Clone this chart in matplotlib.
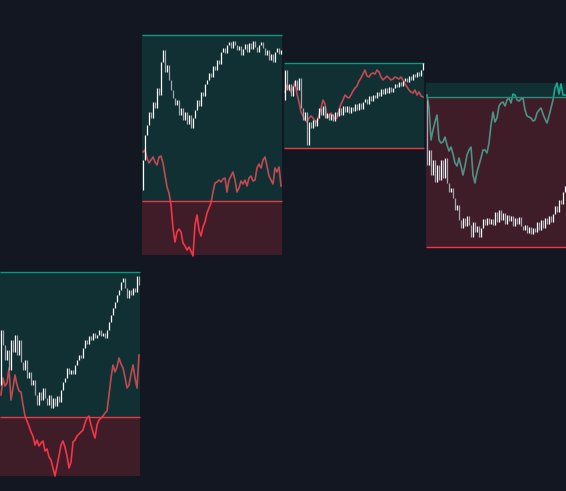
import numpy as np
import matplotlib.pyplot as plt
from matplotlib.collections import LineCollection

# 四个区段, 每段70根K线 + 一条比较线
N = 70

# 每段K线收盘价 (第一根的开盘价单独给出, 其余开盘价 = 前一根收盘价)
first_open = [106, 301, 391, 391]
closes = [
    [161, 146, 131, 141, 121, 151, 139, 156, 136, 151,
     129, 121, 131, 113, 119, 106, 111, 96, 86, 99,
     91, 103, 93, 86, 96, 83, 93, 85, 95, 89,
     101, 109, 113, 123, 117, 121, 117, 126, 131, 136,
     133, 143, 151, 147, 155, 151, 158, 153, 156, 161,
     155, 158, 153, 161, 169, 176, 183, 189, 196, 201,
     209, 213, 203, 193, 201, 196, 203, 199, 215, 206],
    [331, 356, 366, 379, 373, 389, 383, 403, 396, 429,
     441, 419, 426, 411, 401, 393, 386, 391, 376, 383,
     371, 379, 367, 376, 363, 373, 381, 391, 385, 399,
     395, 407, 411, 418, 414, 425, 421, 431, 427, 439,
     443, 438, 446, 449, 443, 450, 446, 441, 445, 436,
     442, 447, 439, 448, 442, 450, 444, 439, 446, 449,
     443, 436, 441, 431, 437, 429, 439, 443, 437, 441],
    [421, 401, 407, 395, 405, 411, 401, 413, 383, 371,
     379, 346, 369, 363, 371, 365, 373, 383, 376, 385,
     373, 378, 371, 377, 370, 379, 375, 383, 376, 385,
     379, 385, 378, 384, 380, 387, 381, 388, 382, 389,
     392, 387, 395, 390, 396, 393, 399, 395, 402, 397,
     403, 398, 404, 399, 403, 407, 404, 409, 405, 410,
     413, 409, 415, 411, 417, 414, 419, 415, 421, 428],
    [326, 341, 316, 331, 309, 326, 311, 331, 313, 333,
     308, 299, 303, 293, 281, 286, 271, 263, 273, 265,
     275, 266, 254, 269, 259, 265, 254, 263, 272, 266,
     273, 267, 272, 266, 279, 269, 281, 271, 278, 267,
     276, 270, 275, 265, 273, 267, 274, 265, 261, 266,
     258, 264, 257, 263, 259, 269, 261, 271, 263, 273,
     267, 275, 269, 277, 285, 279, 291, 287, 299, 305],
]

# 比较线
lines = [
    [96, 113, 105, 108, 123, 91, 103, 116, 106, 100,
     99, 86, 75, 70, 65, 59, 55, 46, 51, 45,
     48, 50, 40, 42, 34, 31, 23, 15, 25, 35,
     46, 50, 44, 35, 23, 29, 49, 51, 55, 57,
     59, 61, 68, 73, 75, 66, 59, 53, 66, 71,
     73, 75, 78, 80, 96, 113, 126, 119, 124, 133,
     127, 123, 114, 103, 106, 117, 126, 113, 103, 136],
    [339, 341, 333, 328, 331, 334, 329, 326, 334, 335,
     328, 316, 304, 298, 286, 263, 249, 259, 262, 259,
     248, 245, 241, 244, 240, 235, 266, 276, 261, 255,
     264, 269, 278, 283, 288, 299, 308, 309, 311, 309,
     312, 313, 299, 311, 315, 319, 311, 299, 303, 310,
     307, 311, 305, 313, 315, 310, 311, 323, 327, 323,
     331, 334, 325, 315, 311, 307, 323, 319, 324, 305],
    [399, 406, 403, 399, 403, 409, 397, 389, 379, 375,
     371, 369, 373, 375, 373, 370, 369, 376, 383, 391,
     387, 373, 375, 378, 375, 372, 373, 381, 387, 391,
     396, 394, 393, 396, 400, 403, 405, 410, 413, 417,
     421, 415, 414, 417, 418, 417, 421, 419, 414, 411,
     413, 415, 413, 411, 412, 414, 413, 412, 414, 411,
     407, 404, 401, 399, 398, 401, 396, 399, 395, 394],
    [396, 383, 351, 361, 369, 376, 351, 348, 349, 354,
     346, 340, 344, 337, 328, 325, 333, 325, 316, 325,
     336, 341, 344, 316, 308, 319, 326, 333, 341, 341,
     338, 348, 366, 379, 369, 373, 385, 388, 389, 385,
     391, 393, 388, 397, 396, 391, 390, 392, 393, 381,
     375, 374, 373, 370, 371, 378, 381, 383, 377, 372,
     368, 375, 383, 391, 403, 408, 397, 407, 396, 396],
]

# 区段框: 上沿 / 分界 / 下沿, 以及两条水平线
box_top = [219, 456, 428, 408]
box_mid = [74, 290, 343, 394]
box_bot = [15, 236, 343, 244]
teal_level = [219, 456, 428, 394]
red_level = [74, 290, 343, 244]

bg = "#131722"
green = "#089981"
red = "#f23645"
line_colors = [red, red, red, "#22ab94"]

fig = plt.figure(figsize=(5.66, 4.91), dpi=100)
fig.patch.set_facecolor(bg)
ax = fig.add_axes([0, 0, 1, 1])
ax.set_facecolor(bg)

for k in range(4):
    x = np.arange(N) + k * (N + 1)
    left, right = x[0] - 0.5, x[-1] + 0.5

    # 先画线, 再盖半透明底色
    ax.plot(x, lines[k], color=line_colors[k], lw=1.2, zorder=1)
    ax.hlines(teal_level[k], left, right, color=green, lw=1.0, zorder=1)
    ax.hlines(red_level[k], left, right, color=red, lw=1.0, zorder=1)

    ax.fill_between([left, right], box_mid[k], box_top[k], color=green,
                    alpha=0.2, lw=0, zorder=2)
    ax.fill_between([left, right], box_bot[k], box_mid[k], color=red,
                    alpha=0.2, lw=0, zorder=2)

    c = np.array(closes[k])
    o = np.r_[first_open[k], c[:-1]]
    segs = [[(xi, oi), (xi, ci)] for xi, oi, ci in zip(x, o, c)]
    cols = ["#ffffff" if ci > oi else "#a3a6af" for oi, ci in zip(o, c)]
    ax.add_collection(LineCollection(segs, colors=cols, lw=0.9, zorder=3))

ax.set_xlim(-0.5, 3 * (N + 1) + N - 0.5)
ax.set_ylim(0, 491)
ax.axis("off")

fig.savefig("out.png", dpi=100, facecolor=bg)
